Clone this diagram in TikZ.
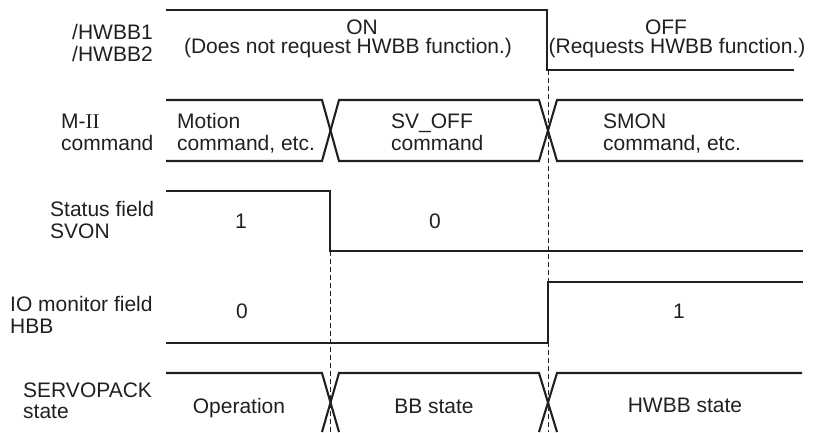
\documentclass[tikz,border=0pt]{standalone}
\usepackage{fontspec}
\setmainfont{Liberation Sans}
\newfontfamily\romanfont{Liberation Serif}
\definecolor{ink}{HTML}{231F20}
\begin{document}
\begin{tikzpicture}[x=1pt,y=-1pt,
  sig/.style={draw=ink,line width=2.1pt,line join=miter},
  guide/.style={draw=ink,line width=0.9pt,dash pattern=on 5pt off 3pt},
  txt/.style={inner sep=0pt,text=ink,font=\fontsize{21}{22}\selectfont},
  lbl/.style={txt,anchor=base west},
  mid/.style={txt,anchor=base}]
\useasboundingbox (0,0) rectangle (820,432);
% guides
\draw[guide] (548,70) -- (548,432);
\draw[guide] (330,251) -- (330,432);
% row 1: /HWBB
\draw[sig] (166,10) -- (547,10) -- (547,70) -- (794,70);
% row 2: M-II command
\draw[sig] (166,100) -- (322,100) -- (339,161) -- (539,161) -- (557,100) -- (803,100);
\draw[sig] (166,161) -- (322,161) -- (339,100) -- (539,100) -- (557,161) -- (803,161);
% row 3: SVON
\draw[sig] (166,191) -- (330,191) -- (330,251) -- (803,251);
% row 4: HBB
\draw[sig] (166,343) -- (548,343) -- (548,282) -- (803,282);
% row 5: SERVOPACK state
\draw[sig] (166,373) -- (322,373) -- (339,432);
\draw[sig] (322,432) -- (339,373) -- (539,373) -- (557,432);
\draw[sig] (539,432) -- (557,373) -- (802,373);
% labels
\node[lbl] (l1a) at (72,39) {/HWBB1};
\node[lbl] (l1b) at (72,61) {/HWBB2};
\node[lbl] (l2a) at (61,128) {M-{\romanfont II}};
\node[lbl] (l2b) at (61,150) {command};
\node[lbl] (l3a) at (50,216) {Status field};
\node[lbl] (l3b) at (50,238) {SVON};
\node[lbl] (l4a) at (10,311) {IO monitor field};
\node[lbl] (l4b) at (10,333) {HBB};
\node[lbl] (l5a) at (23,397) {SERVOPACK};
\node[lbl] (l5b) at (23,418) {state};
% row 1 texts
\node[mid] (on) at (362,34) {ON};
\node[mid] (ond) at (348,53) {(Does not request HWBB function.)};
\node[mid] (off) at (666,34) {OFF};
\node[mid] (offd) at (677,53) {(Requests HWBB function.)};
% row 2 texts
\node[lbl] (c1a) at (177,128) {Motion};
\node[lbl] (c1b) at (177,150) {command, etc.};
\node[lbl] (c2a) at (391,128) {SV\_OFF};
\node[lbl] (c2b) at (391,150) {command};
\node[lbl] (c3a) at (603,128) {SMON};
\node[lbl] (c3b) at (603,150) {command, etc.};
% row 3 texts
\node[mid] (s1) at (241,228) {1};
\node[mid] (s0) at (435,228) {0};
% row 4 texts
\node[mid] (h0) at (242,318) {0};
\node[mid] (h1) at (679,318) {1};
% row 5 texts
\node[mid] (op) at (239,413) {Operation};
\node[mid] (bb) at (434,413) {BB state};
\node[mid] (hw) at (685,412) {HWBB state};
\end{tikzpicture}
\end{document}
